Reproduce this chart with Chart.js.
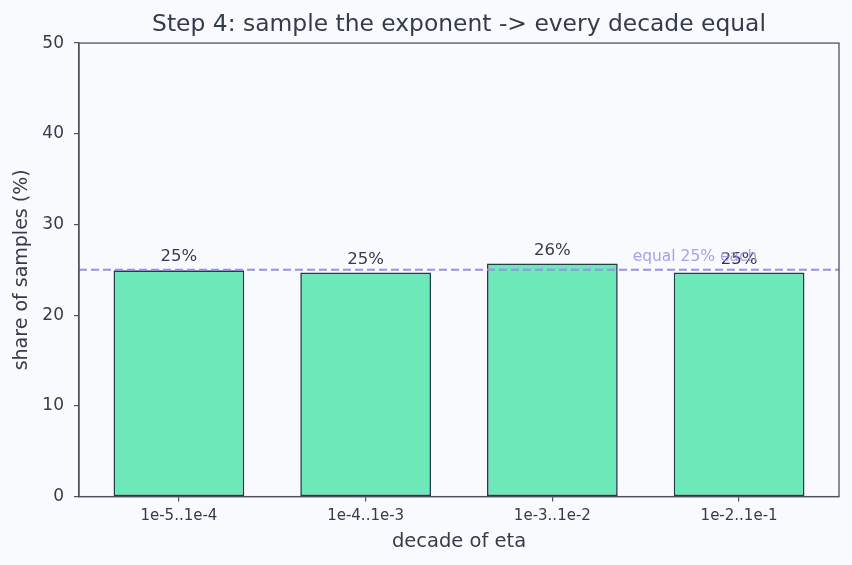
<!DOCTYPE html>
<html>
<head>
<meta charset="utf-8">
<script src="https://cdn.jsdelivr.net/npm/chart.js@4"></script>
<style>
html,body{margin:0;padding:0;background:#f9fafd;}
#wrap{width:852px;height:565px;}
</style>
</head>
<body>
<div id="wrap"><canvas id="c" width="852" height="565"></canvas></div>
<script>
const categories = ["1e-5..1e-4", "1e-4..1e-3", "1e-3..1e-2", "1e-2..1e-1"];
const shares = [24.95, 24.7, 25.7, 24.7];
const yTicks = [0, 10, 20, 30, 40, 50];
const referenceShare = 25;
const referenceLabel = "equal 25% each";
const titleText = "Step 4: sample the exponent -> every decade equal";
const xTitle = "decade of eta";
const yTitle = "share of samples (%)";

const TEXT = "#343b4a";
const AXIS = "#4d5160";
const FONT = "'DejaVu Sans', sans-serif";

const overlay = {
  id: "overlay",
  afterDatasetsDraw(chart) {
    const {ctx, chartArea: a, scales: {x, y}} = chart;
    ctx.save();
    // value labels
    ctx.fillStyle = TEXT;
    ctx.font = "16.5px " + FONT;
    ctx.textAlign = "center";
    ctx.textBaseline = "bottom";
    shares.forEach((v, i) => {
      ctx.fillText(Math.round(v) + "%", x.getPixelForValue(i), y.getPixelForValue(v) - 5);
    });
    // reference line
    const yy = y.getPixelForValue(referenceShare);
    ctx.strokeStyle = "#9c8ee6";
    ctx.lineWidth = 2;
    ctx.setLineDash([8, 4]);
    ctx.beginPath();
    ctx.moveTo(a.left, yy);
    ctx.lineTo(a.right, yy);
    ctx.stroke();
    ctx.setLineDash([]);
    ctx.fillStyle = "rgba(156,142,230,0.85)";
    ctx.font = "15.5px " + FONT;
    ctx.textAlign = "left";
    ctx.textBaseline = "bottom";
    ctx.fillText(referenceLabel, x.getPixelForValue(2.43), y.getPixelForValue(referenceShare + 0.6));
    // frame
    ctx.strokeStyle = AXIS;
    ctx.lineWidth = 1.3;
    ctx.strokeRect(a.left, a.top, a.right - a.left, a.bottom - a.top);
    ctx.restore();
  }
};

new Chart(document.getElementById("c"), {
  type: "bar",
  data: {
    datasets: [{
      data: shares.map((v, i) => ({x: i, y: v})),
      backgroundColor: "#6de8b8",
      borderColor: "#233a4a",
      borderWidth: 1.6,
      borderSkipped: false,
      barPercentage: 0.7,
      categoryPercentage: 1
    }]
  },
  options: {
    responsive: false,
    animation: false,
    layout: {padding: {left: 0, right: 13, top: 0, bottom: 11}},
    plugins: {
      legend: {display: false},
      tooltip: {enabled: false},
      title: {
        display: true, text: titleText, color: TEXT, fullSize: false,
        font: {family: FONT, size: 23.4, weight: "normal"},
        padding: {top: 11, bottom: 4}
      }
    },
    scales: {
      x: {
        type: "linear", min: -0.535, max: 3.535, offset: false,
        afterBuildTicks(s) { s.ticks = categories.map((c, i) => ({value: i})); },
        ticks: {
          callback: (v) => categories[v], color: TEXT, padding: 6,
          font: {family: FONT, size: 15}, maxRotation: 0, autoSkip: false
        },
        grid: {display: true, offset: false, drawOnChartArea: false, drawTicks: true, tickLength: 5, color: AXIS, lineWidth: 1.2},
        border: {display: true, color: AXIS, width: 1.3},
        title: {display: true, text: xTitle, color: TEXT, font: {family: FONT, size: 19.5}, padding: {top: -1, bottom: 0}}
      },
      y: {
        min: 0, max: 50,
        afterBuildTicks(s) { s.ticks = yTicks.map(v => ({value: v})); },
        afterFit(s) { s.width = 79; },
        ticks: {color: TEXT, padding: 10, font: {family: FONT, size: 17}},
        grid: {display: true, drawOnChartArea: false, drawTicks: true, tickLength: 5, color: AXIS, lineWidth: 1.2},
        border: {display: true, color: AXIS, width: 1.3},
        title: {display: true, text: yTitle, color: TEXT, font: {family: FONT, size: 19}, padding: {top: 10.5, bottom: 4}}
      }
    }
  },
  plugins: [overlay]
});
</script>
</body>
</html>
